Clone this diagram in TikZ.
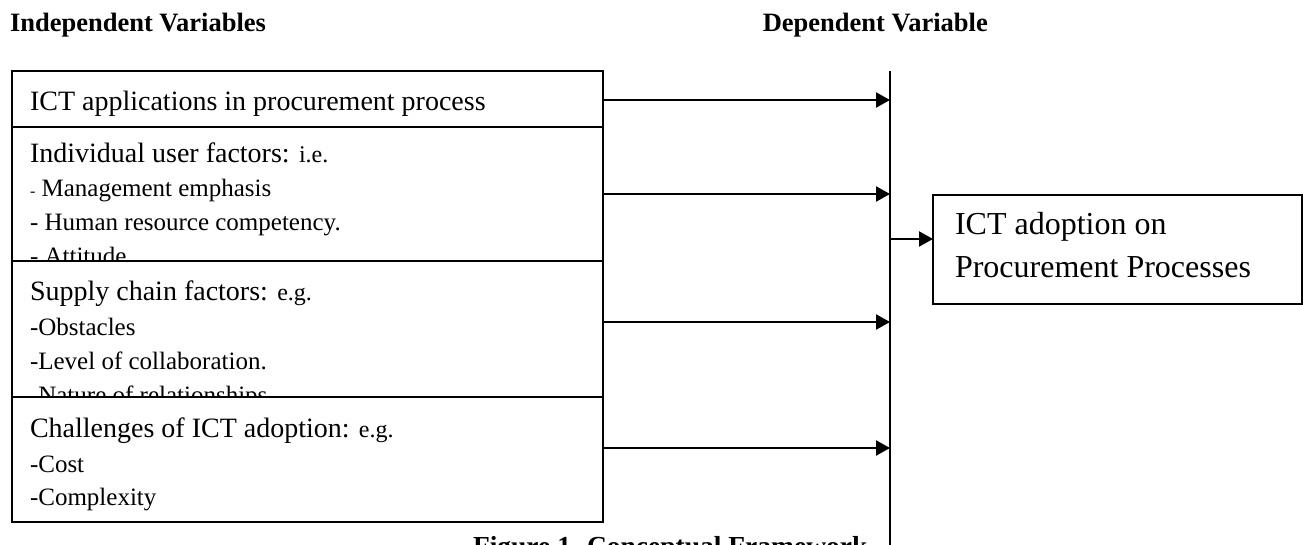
\documentclass[tikz,border=0pt]{standalone}
\usepackage{fontspec}
\setmainfont{Liberation Serif}
\usetikzlibrary{arrows.meta}
\newcommand\fmain{\fontsize{28}{34}\selectfont}
\newcommand\fsub{\fontsize{25}{34}\selectfont}
\newcommand\fsmall{\fontsize{24}{34}\selectfont}
\newcommand\fhead{\fontsize{26.5}{32}\selectfont\bfseries}
\newcommand\fres{\fontsize{32}{40}\selectfont}
\newcommand\fcap{\fontsize{27.5}{32}\selectfont\bfseries}
\begin{document}
\begin{tikzpicture}[x=1pt,y=-1pt,
  boxnode/.style={draw, line width=1.9pt, fill=white, inner sep=0pt, outer sep=0pt, rectangle, anchor=north west},
  txt/.style={anchor=base west, inner sep=0pt, outer sep=0pt},
  conn/.style={line width=2.2pt, -{Triangle[length=14pt,width=15pt]}},
  vline/.style={line width=1.9pt}]
\useasboundingbox (0,0) rectangle (1303,545);
\clip (0,0) rectangle (1303,545);

% headers
\node[txt, font=\fhead] (h1) at (10,32) {Independent Variables};
\node[anchor=base east, inner sep=0pt, font=\fhead] (h2) at (988,32) {Dependent Variable};

% box 1
\node[boxnode, minimum width=591pt, minimum height=56pt] (b1) at (12,71) {};
\node[txt, font=\fmain] (t11) at (30,111) {ICT applications in procurement process};

% box 2
\node[boxnode, minimum width=591pt, minimum height=134pt] (b2) at (12,127) {};
\node[txt, font=\fmain] (t21) at (30,163) {Individual user factors: {\fsmall i.e.}};
\node[txt, font=\fsub] (t22) at (30,197) {{\fontsize{16}{16}\selectfont -} Management emphasis};
\node[txt, font=\fsub] (t23) at (30,231) {- Human resource competency.};
\node[txt, font=\fsub] (t24) at (30,265) {- Attitude};

% box 3
\node[boxnode, minimum width=591pt, minimum height=136pt] (b3) at (12,261) {};
\node[txt, font=\fmain] (t31) at (30,300) {Supply chain factors: {\fsmall e.g.}};
\node[txt, font=\fsub] (t32) at (30,335) {-Obstacles};
\node[txt, font=\fsub] (t33) at (30,369) {-Level of collaboration.};
\node[txt, font=\fsub] (t34) at (30,403) {-Nature of relationships};

% box 4
\node[boxnode, minimum width=591pt, minimum height=125pt] (b4) at (12,397) {};
\node[txt, font=\fmain] (t41) at (30,437) {Challenges of ICT adoption: {\fsmall e.g.}};
\node[txt, font=\fsub] (t42) at (30,472) {-Cost};
\node[txt, font=\fsub] (t43) at (30,505) {-Complexity};

% result box
\node[boxnode, minimum width=369pt, minimum height=109pt] (res) at (933,195) {};
\node[txt, font=\fres] (r1) at (955,235) {ICT adoption on};
\node[txt, font=\fres] (r2) at (955,277) {Procurement Processes};

% vertical collector line
\coordinate (vt) at (890,71);
\coordinate (vb) at (890,560);
\draw[vline] (vt) -- (vb);

% arrows
\coordinate (v1) at (890,100);
\coordinate (v2) at (890,194);
\coordinate (v3) at (890,322);
\coordinate (v4) at (890,448);
\coordinate (v0) at (890,239);
\draw[conn] (b1.east |- v1) -- (v1);
\draw[conn] (b2.east |- v2) -- (v2);
\draw[conn] (b3.east |- v3) -- (v3);
\draw[conn] (b4.east |- v4) -- (v4);
\draw[conn] (v0) -- (res.west |- v0);

% caption (cut by the lower edge, as in the reference)
\node[txt, font=\fcap] (cap) at (473,555) {Figure 1. Conceptual Framework};
\end{tikzpicture}
\end{document}
